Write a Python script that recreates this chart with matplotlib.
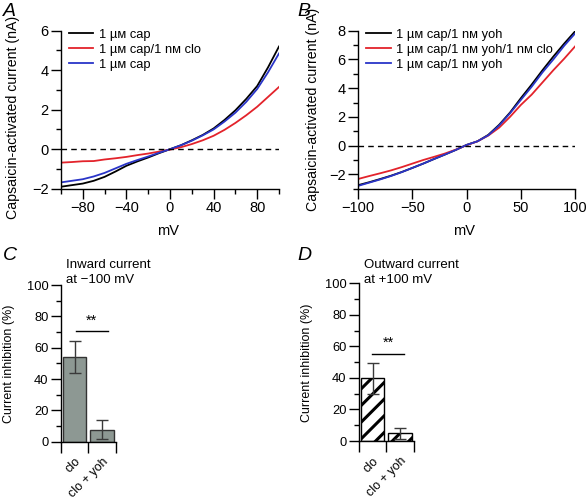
import matplotlib
matplotlib.use('Agg')
from matplotlib import pyplot as plt
from matplotlib.transforms import ScaledTranslation
import numpy as np

plt.rcParams['font.family'] = ['Liberation Sans', 'DejaVu Sans']
plt.rcParams['font.size'] = 10
plt.rcParams['axes.linewidth'] = 1.0
plt.rcParams['hatch.linewidth'] = 2.2

# membrane potential (mV)
mv = [-100, -90, -80, -70, -60, -50, -40, -30, -20, -10, 0,
      10, 20, 30, 40, 50, 60, 70, 80, 90, 100]

# panel A currents (nA)
a_cap1 = [-1.90, -1.82, -1.74, -1.60, -1.40, -1.13, -0.84, -0.62, -0.42, -0.20, 0.00,
          0.20, 0.45, 0.72, 1.05, 1.48, 1.97, 2.55, 3.20, 4.15, 5.20]
a_clo = [-0.68, -0.65, -0.61, -0.60, -0.52, -0.46, -0.39, -0.30, -0.22, -0.12, -0.02,
         0.10, 0.26, 0.45, 0.68, 0.98, 1.33, 1.72, 2.15, 2.65, 3.15]
a_cap2 = [-1.68, -1.60, -1.52, -1.38, -1.20, -0.97, -0.74, -0.55, -0.37, -0.18, 0.00,
          0.20, 0.43, 0.70, 1.00, 1.40, 1.85, 2.40, 3.05, 3.90, 4.85]

# panel B currents (nA)
b_yoh1 = [-2.75, -2.55, -2.33, -2.10, -1.84, -1.55, -1.25, -0.93, -0.62, -0.30, 0.05,
          0.30, 0.75, 1.45, 2.30, 3.30, 4.25, 5.25, 6.20, 7.10, 7.95]
b_clo = [-2.32, -2.12, -1.93, -1.73, -1.50, -1.25, -1.00, -0.78, -0.55, -0.28, 0.03,
         0.30, 0.70, 1.25, 2.00, 2.83, 3.55, 4.40, 5.25, 6.05, 6.90]
b_yoh2 = [-2.80, -2.58, -2.36, -2.12, -1.85, -1.55, -1.25, -0.93, -0.62, -0.30, 0.05,
          0.30, 0.72, 1.40, 2.25, 3.18, 4.10, 5.10, 6.00, 6.95, 7.80]

labels_a = ['1 µм cap', '1 µм cap/1 nм clo', '1 µм cap']
labels_b = ['1 µм cap/1 nм yoh', '1 µм cap/1 nм yoh/1 nм clo', '1 µм cap/1 nм yoh']

# bar charts (% inhibition)
groups = ['clo', 'clo + yoh']
inward = [54.3, 7.7]
inward_err = [10.2, 6.0]
outward = [39.7, 4.9]
outward_err = [10.0, 3.6]

W, H = 587, 499
fig = plt.figure(figsize=(W / 100, H / 100), dpi=100)


def box(x0, y0, x1, y1):
    return [x0 / W, 1 - y1 / H, (x1 - x0) / W, (y1 - y0) / H]


colors = ['black', '#e3232b', '#2a35c8']


def style_ticks(ax, size):
    ax.spines['top'].set_visible(False)
    ax.spines['right'].set_visible(False)
    ax.tick_params(which='major', direction='out', length=7, width=1, pad=2,
                   labelsize=size)
    ax.tick_params(which='minor', direction='out', length=3.5, width=1)


def minus(vals):
    return [str(v).replace('-', '\u2212') for v in vals]


def iv_panel(ax, series, labels, ylim, ymaj, yminor, xmaj, xminor, ylab_xy):
    for y, c, lab in zip(series, colors, labels):
        ax.plot(mv, y, color=c, lw=1.3, label=lab)
    ax.axhline(0, color='black', lw=1, ls=(0, (4, 3)))
    ax.set_xlim(-100, 100)
    ax.set_ylim(*ylim)
    ax.set_yticks(ymaj)
    ax.set_yticks(yminor, minor=True)
    ax.set_xticks(xmaj)
    ax.set_xticks(xminor, minor=True)
    ax.set_yticklabels(minus(ymaj))
    ax.set_xticklabels(minus(xmaj))
    ax.set_xlabel('mV', fontsize=10.5)
    ax.set_ylabel('Capsaicin-activated current (nA)', fontsize=10.2)
    ax.yaxis.set_label_coords(*ylab_xy)
    ax.xaxis.set_label_coords(0.49, -0.225)
    style_ticks(ax, 10.5)
    ax.legend(loc='upper left', bbox_to_anchor=(0.0, 1.06), frameon=False,
              handlelength=1.9, handletextpad=0.45, labelspacing=0.22,
              fontsize=9.3, borderaxespad=0.2)


axA = fig.add_axes(box(61, 30.7, 279, 188.7))
iv_panel(axA, [a_cap1, a_clo, a_cap2], labels_a, (-2, 6), [-2, 0, 2, 4, 6],
         [-1, 1, 3, 5], [-80, -40, 0, 40, 80], [-100, -60, -20, 20, 60, 100],
         (-0.19, 0.45))

axB = fig.add_axes(box(358.3, 30.7, 575, 188.7))
iv_panel(axB, [b_yoh1, b_clo, b_yoh2], labels_b, (-3, 8), [-2, 0, 2, 4, 6, 8],
         [-3, -1, 1, 3, 5, 7], [-100, -50, 0, 50, 100], [],
         (-0.177, 0.5))


def bar_panel(ax, vals, errs, sig_x, sig_y, star_y, hatched):
    pos = [0.5, 1.5]
    if hatched:
        ax.bar(pos, vals, width=0.86, color='white', edgecolor='black',
               hatch='//', linewidth=1, zorder=2)
    else:
        ax.bar(pos, vals, width=0.86, color='#8d9893', edgecolor='#333333',
               linewidth=1, zorder=2)
    ax.errorbar(pos, vals, yerr=errs, fmt='none', ecolor='#3a3a3a',
                elinewidth=1, capsize=4.5, capthick=1, zorder=3)
    ax.plot(sig_x, [sig_y, sig_y], color='black', lw=1)
    ax.text(np.mean(sig_x), star_y, '**', ha='center', va='center', fontsize=10.5)
    ax.set_xlim(0, 2)
    ax.set_ylim(0, 100)
    ax.set_yticks([0, 20, 40, 60, 80, 100])
    ax.set_yticks([10, 30, 50, 70, 90], minor=True)
    ax.set_xticks([0, 1, 2])
    ax.set_xticklabels([])
    ax.set_xticks(pos, minor=True)
    ax.set_xticklabels(groups, minor=True, rotation=45, ha='right',
                       va='top', rotation_mode='anchor', fontsize=9)
    shift = ScaledTranslation(4 / 72, 0, fig.dpi_scale_trans)
    for t in ax.get_xticklabels(minor=True):
        t.set_transform(t.get_transform() + shift)
    ax.set_ylabel('Current inhibition (%)', fontsize=9)
    ax.yaxis.set_label_coords(-0.84, 0.496)
    style_ticks(ax, 9.3)
    ax.tick_params(axis='x', which='major', length=8)
    ax.tick_params(axis='x', which='minor', length=0, pad=10)


axC = fig.add_axes(box(61, 285, 115.7, 441.7))
bar_panel(axC, inward, inward_err, [0.55, 1.71], 70.6, 77, False)

axD = fig.add_axes(box(359, 283.3, 413.7, 441))
bar_panel(axD, outward, outward_err, [0.46, 1.66], 55.4, 62, True)

fig.text(66 / W, 1 - 259 / H, 'Inward current\nat \u2212100 mV', ha='left', va='top',
         fontsize=9.5, linespacing=1.3)
fig.text(364 / W, 1 - 259 / H, 'Outward current\nat +100 mV', ha='left', va='top',
         fontsize=9.5, linespacing=1.3)

for lab, x, y in [('A', 3, 3), ('B', 297, 3), ('C', 3, 247), ('D', 297, 247)]:
    fig.text(x / W, 1 - y / H, lab, ha='left', va='top', fontsize=14, style='italic')

plt.savefig('out.png', dpi=100)
